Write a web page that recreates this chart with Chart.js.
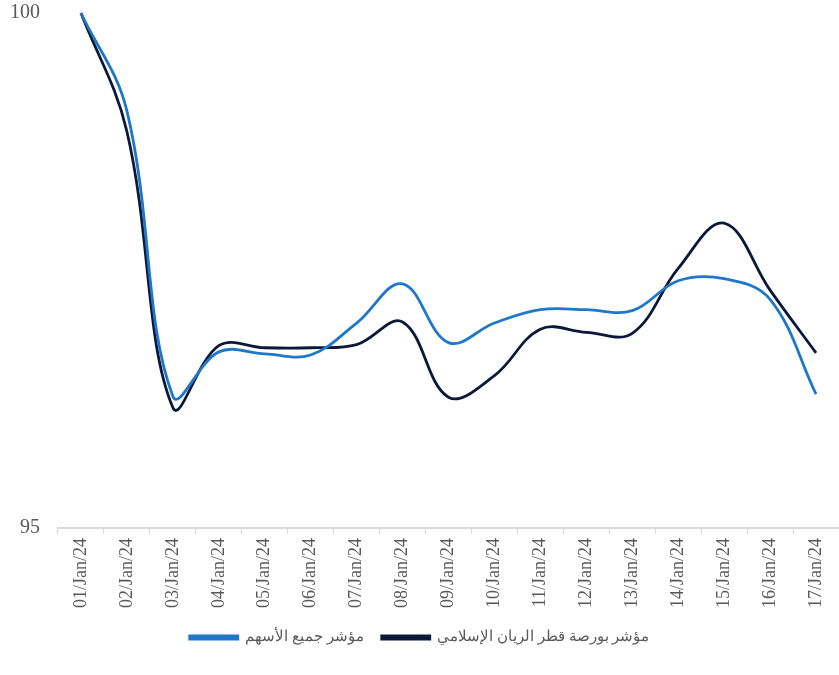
<!DOCTYPE html>
<html>
<head>
<meta charset="utf-8">
<script src="https://cdn.jsdelivr.net/npm/chart.js@4.4.1/dist/chart.umd.min.js"></script>
<style>
    html, body { margin: 0; padding: 0; background: #ffffff; }
    #wrap { width: 839px; height: 675px; }
</style>
</head>
<body>
<div id="wrap"><canvas id="indexChart"></canvas></div>
<script>
// tarih etiketleri
const dates = ['01/Jan/24', '02/Jan/24', '03/Jan/24', '04/Jan/24', '05/Jan/24', '06/Jan/24',
    '07/Jan/24', '08/Jan/24', '09/Jan/24', '10/Jan/24', '11/Jan/24', '12/Jan/24',
    '13/Jan/24', '14/Jan/24', '15/Jan/24', '16/Jan/24', '17/Jan/24'];

// seriler
const allSharesLabel = 'مؤشر جميع الأسهم';
const allShares = [100, 99.05, 96.28, 96.71, 96.69, 96.68, 96.99, 97.37, 96.80, 96.99,
    97.12, 97.12, 97.11, 97.40, 97.42, 97.22, 96.30];

const rayanLabel = 'مؤشر بورصة قطر الريان الإسلامي';
const rayanIslamic = [100, 98.85, 96.17, 96.77, 96.75, 96.75, 96.78, 97.00, 96.27, 96.48,
    96.93, 96.90, 96.89, 97.52, 97.96, 97.31, 96.70];

const yTicks = [95, 100];

const textColor = '#595959';
const serif = "'Liberation Serif', 'Times New Roman', serif";

const seriesList = [
    { label: allSharesLabel, data: allShares, color: '#1f77c9' },
    { label: rayanLabel, data: rayanIslamic, color: '#0c1838' }
];

const datasets = seriesList.map(series => ({
    label: series.label,
    data: series.data,
    borderColor: series.color,
    backgroundColor: series.color,
    borderWidth: 2.8,
    pointRadius: 0,
    tension: 0.38,
    clip: false
}));

new Chart(document.getElementById('indexChart').getContext('2d'), {
    type: 'line',
    data: { labels: dates, datasets: datasets },
    options: {
        responsive: true,
        maintainAspectRatio: false,
        animation: false,
        layout: { padding: { top: 13, right: 0, bottom: 20, left: 0 } },
        scales: {
            x: {
                offset: true,
                afterFit: axis => { axis.paddingLeft = 0; axis.paddingRight = 0; },
                grid: {
                    display: true,
                    drawOnChartArea: false,
                    drawTicks: true,
                    tickLength: 6,
                    color: '#d9d9d9',
                    offset: true
                },
                border: { display: true, color: '#d9d9d9', width: 2 },
                ticks: {
                    minRotation: 90,
                    maxRotation: 90,
                    autoSkip: false,
                    padding: 4,
                    color: textColor,
                    font: { family: serif, size: 18 }
                }
            },
            y: {
                min: 95,
                max: 100,
                afterBuildTicks: axis => { axis.ticks = yTicks.map(v => ({ value: v })); },
                afterFit: axis => {
                    axis.width = 58;
                    axis.paddingTop = 0;
                    axis.paddingBottom = 0;
                },
                grid: { display: false },
                border: { display: false },
                ticks: {
                    padding: 10,
                    color: textColor,
                    font: { family: serif, size: 20 }
                }
            }
        },
        plugins: {
            legend: {
                position: 'bottom',
                labels: {
                    boxWidth: 48,
                    boxHeight: 3,
                    padding: 18,
                    color: textColor,
                    font: { family: serif, size: 15 }
                }
            },
            tooltip: { enabled: false }
        }
    }
});
</script>
</body>
</html>
